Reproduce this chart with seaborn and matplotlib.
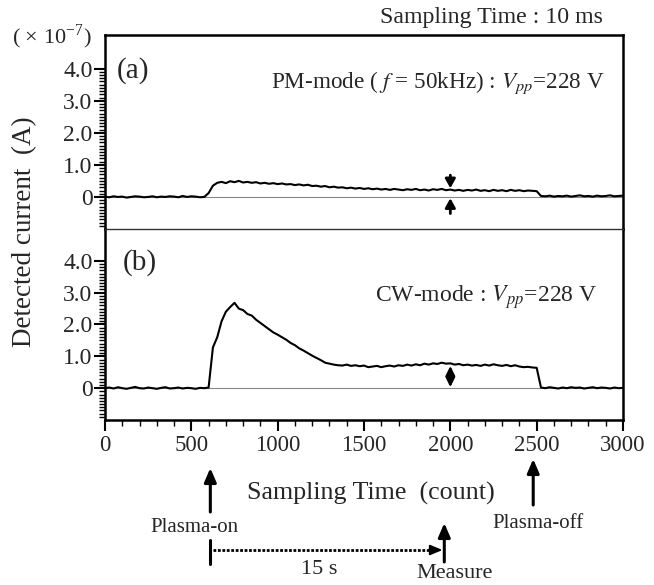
import numpy as np
import matplotlib
matplotlib.use("Agg")
import matplotlib.pyplot as plt
import matplotlib.transforms as mtransforms
from matplotlib.ticker import FixedLocator, NullFormatter
import seaborn as sns

# sampling counts (every 25 counts)
counts = np.arange(0, 3001, 25)

# (a) PM-mode, detected current (x1e-7 A)
pm_current = [
    0.01, -0.01, 0.02, 0.00, 0.01, -0.02, 0.00, 0.02, 0.01, -0.01, 0.00, 0.02,
    -0.01, 0.01, 0.00, 0.02, 0.01, -0.01, 0.03, 0.00, 0.02, 0.01, -0.01, 0.00,
    0.12, 0.35, 0.44, 0.47, 0.43, 0.49, 0.46, 0.50, 0.45, 0.47, 0.44, 0.46,
    0.42, 0.44, 0.41, 0.43, 0.40, 0.42, 0.39, 0.40, 0.37, 0.39, 0.36, 0.38,
    0.34, 0.35, 0.32, 0.34, 0.30, 0.32, 0.29, 0.30, 0.27, 0.29, 0.26, 0.28,
    0.25, 0.27, 0.24, 0.26, 0.23, 0.25, 0.22, 0.25, 0.23, 0.21, 0.24, 0.22,
    0.25, 0.21, 0.23, 0.20, 0.24, 0.22, 0.25, 0.21, 0.23, 0.20, 0.22, 0.19,
    0.22, 0.20, 0.23, 0.19, 0.21, 0.18, 0.22, 0.19, 0.21, 0.18, 0.22, 0.19,
    0.21, 0.18, 0.20, 0.19, 0.18, 0.03,
    0.02, 0.04, 0.01, 0.03, 0.02, 0.04, 0.01, 0.03, 0.05, 0.02, 0.03, 0.01,
    0.04, 0.02, 0.03, 0.05, 0.02, 0.03, 0.04,
]

# (b) CW-mode, detected current (x1e-7 A)
cw_current = [
    0.00, 0.02, -0.01, 0.03, 0.00, -0.02, 0.01, 0.04, 0.00, -0.01, 0.02, 0.00,
    -0.02, 0.01, 0.03, -0.01, 0.00, 0.02, -0.01, 0.01, 0.00, -0.02, 0.01, 0.00,
    0.02,
    1.28, 1.60, 2.10, 2.40, 2.55, 2.68, 2.50, 2.45, 2.33, 2.28, 2.15, 2.05,
    1.95, 1.85, 1.75, 1.68, 1.60, 1.52, 1.42, 1.35, 1.25, 1.18, 1.10, 1.02,
    0.95, 0.88, 0.80, 0.77, 0.74, 0.72, 0.71, 0.74, 0.70, 0.72, 0.69, 0.71,
    0.66, 0.68, 0.70, 0.66, 0.69, 0.71, 0.68, 0.72, 0.70, 0.74, 0.71, 0.75,
    0.72, 0.77, 0.74, 0.78, 0.76, 0.80, 0.77, 0.78, 0.74, 0.76, 0.72, 0.74,
    0.71, 0.73, 0.70, 0.74, 0.71, 0.75, 0.72, 0.70, 0.73, 0.69, 0.72, 0.68,
    0.66, 0.67, 0.65, 0.64, 0.02,
    0.00, 0.03, 0.01, -0.01, 0.02, 0.00, 0.03, 0.01, 0.02, -0.01, 0.01, 0.03,
    0.00, 0.02, 0.01, -0.01, 0.02, 0.00, 0.01,
]

assert len(pm_current) == len(counts) and len(cw_current) == len(counts)

major_y = [0, 1, 2, 3, 4]
major_y_labels = ["0", "1.0", "2.0", "3.0", "4.0"]
minor_y = np.arange(-9, 41) / 10
major_x = [0, 500, 1000, 1500, 2000, 2500, 3000]
minor_x = np.arange(0, 3001, 100)

sns.set_theme(style="white")
plt.rcParams["font.family"] = ["Liberation Serif", "DejaVu Serif"]
plt.rcParams["mathtext.fontset"] = "stix"

W, H = 654, 585
fig = plt.figure(figsize=(W / 100, H / 100), dpi=100)


def fy(px):
    return 1 - px / H


left, right = 105 / W, 623 / W
ax_a = fig.add_axes([left, fy(229), right - left, (229 - 35) / H])
ax_b = fig.add_axes([left, fy(420), right - left, (420 - 229) / H])

for ax, vals, ylim in [(ax_a, pm_current, (-1.0, 5.05)), (ax_b, cw_current, (-1.0, 5.0))]:
    ax.axhline(0, color="#888888", lw=0.8, zorder=1)
    sns.lineplot(x=counts, y=vals, ax=ax, color="black", lw=1.5, zorder=2)
    ax.set_xlim(0, 3000)
    ax.set_ylim(*ylim)
    ax.yaxis.set_major_locator(FixedLocator(major_y))
    ax.set_yticklabels(major_y_labels)
    ax.yaxis.set_minor_locator(FixedLocator(minor_y))
    ax.tick_params(axis="y", which="major", direction="out", length=8, width=1.5,
                   labelsize=17, pad=1, left=True, color="black")
    ax.tick_params(axis="y", which="minor", direction="out", length=4, width=1.0,
                   left=True, color="black")
    for s in ax.spines.values():
        s.set_linewidth(1.8)
        s.set_color("black")
    ax.set_xlabel("")
    ax.set_ylabel("")

# top panel: no x axis, open bottom
ax_a.spines["bottom"].set_visible(False)
ax_a.tick_params(axis="x", which="both", bottom=False, labelbottom=False)
ax_b.spines["top"].set_linewidth(1.0)
ax_b.spines["top"].set_color("#333333")

ax_b.xaxis.set_major_locator(FixedLocator(major_x))
ax_b.xaxis.set_minor_locator(FixedLocator(minor_x))
ax_b.xaxis.set_minor_formatter(NullFormatter())
ax_b.tick_params(axis="x", which="major", direction="out", length=8, width=1.5,
                 labelsize=16.5, pad=3, bottom=True, color="black")
ax_b.tick_params(axis="x", which="minor", direction="out", length=4, width=1.0,
                 bottom=True, color="black")

# panel labels and mode texts
ax_a.text(133 / W, fy(71), "(a)", transform=fig.transFigure, fontsize=21,
          ha="center", va="center")
ax_b.text(140 / W, fy(263), "(b)", transform=fig.transFigure, fontsize=21,
          ha="center", va="center")
ax_a.text(605 / W, fy(83), r"PM-mode ( $f$ = 50kHz) : $V_{pp}$=228 V",
          transform=fig.transFigure, fontsize=16.7, ha="right", va="center")
ax_b.text(597 / W, fy(297), r"CW-mode : $V_{pp}$=228 V",
          transform=fig.transFigure, fontsize=17, ha="right", va="center")

# measurement arrows inside panels
head = dict(arrowstyle="-|>,head_length=0.45,head_width=0.25", color="black",
            lw=2, shrinkA=0, shrinkB=0)
ax_a.annotate("", xy=(2000, 0.27), xytext=(2000, 0.68), arrowprops=head)
ax_a.annotate("", xy=(2000, -0.04), xytext=(2000, -0.52), arrowprops=head)
ax_b.annotate("", xy=(2000, 0.70), xytext=(2000, 0.03),
              arrowprops=dict(arrowstyle="<|-|>,head_length=0.45,head_width=0.22",
                              color="black", lw=1.8, shrinkA=0, shrinkB=0))

# figure texts
fig.text(491 / W, fy(17), "Sampling Time : 10 ms", fontsize=17.2, ha="center", va="center")
fig.text(52 / W, fy(37), r"( × 10$^{\mathregular{-7}}$)", fontsize=16, ha="center", va="center")
fig.text(25 / W, fy(232), "Detected current  (A)", fontsize=19.5, rotation=90,
         ha="center", va="center")
fig.text(371 / W, fy(493), "Sampling Time  (count)", fontsize=18.7, ha="center", va="center")

# timing annotations below the axis
bt = mtransforms.blended_transform_factory(ax_b.transData, fig.transFigure)
up = dict(arrowstyle="-|>,head_length=0.7,head_width=0.3", color="black", lw=2.2,
          shrinkA=0, shrinkB=0)
ax_b.annotate("", xy=(610, fy(468)), xytext=(610, fy(512)), xycoords=bt,
              textcoords=bt, arrowprops=up, annotation_clip=False)
ax_b.annotate("", xy=(2480, fy(459)), xytext=(2480, fy(505)), xycoords=bt,
              textcoords=bt, arrowprops=up, annotation_clip=False)
ax_b.annotate("", xy=(1965, fy(523)), xytext=(1965, fy(562)), xycoords=bt,
              textcoords=bt, arrowprops=up, annotation_clip=False)
ax_b.plot([610, 610], [fy(540), fy(564)], transform=bt, color="black", lw=2.2,
          clip_on=False)
ax_b.plot([625, 1905], [fy(550), fy(550)], transform=bt, color="black", lw=2.0,
          ls=(0, (1, 0.6)), clip_on=False)
ax_b.annotate("", xy=(1955, fy(550)), xytext=(1900, fy(550)), xycoords=bt,
              textcoords=bt, annotation_clip=False,
              arrowprops=dict(arrowstyle="-|>,head_length=0.6,head_width=0.25",
                              color="black", lw=1.5, shrinkA=0, shrinkB=0))

fig.text(194 / W, fy(527), "Plasma-on", fontsize=15, ha="center", va="center")
fig.text(538 / W, fy(523), "Plasma-off", fontsize=15, ha="center", va="center")
fig.text(319 / W, fy(569), "15 s", fontsize=16, ha="center", va="center")
fig.text(455 / W, fy(574), "Measure", fontsize=16, ha="center", va="center")

fig.savefig("out.png", dpi=100)
